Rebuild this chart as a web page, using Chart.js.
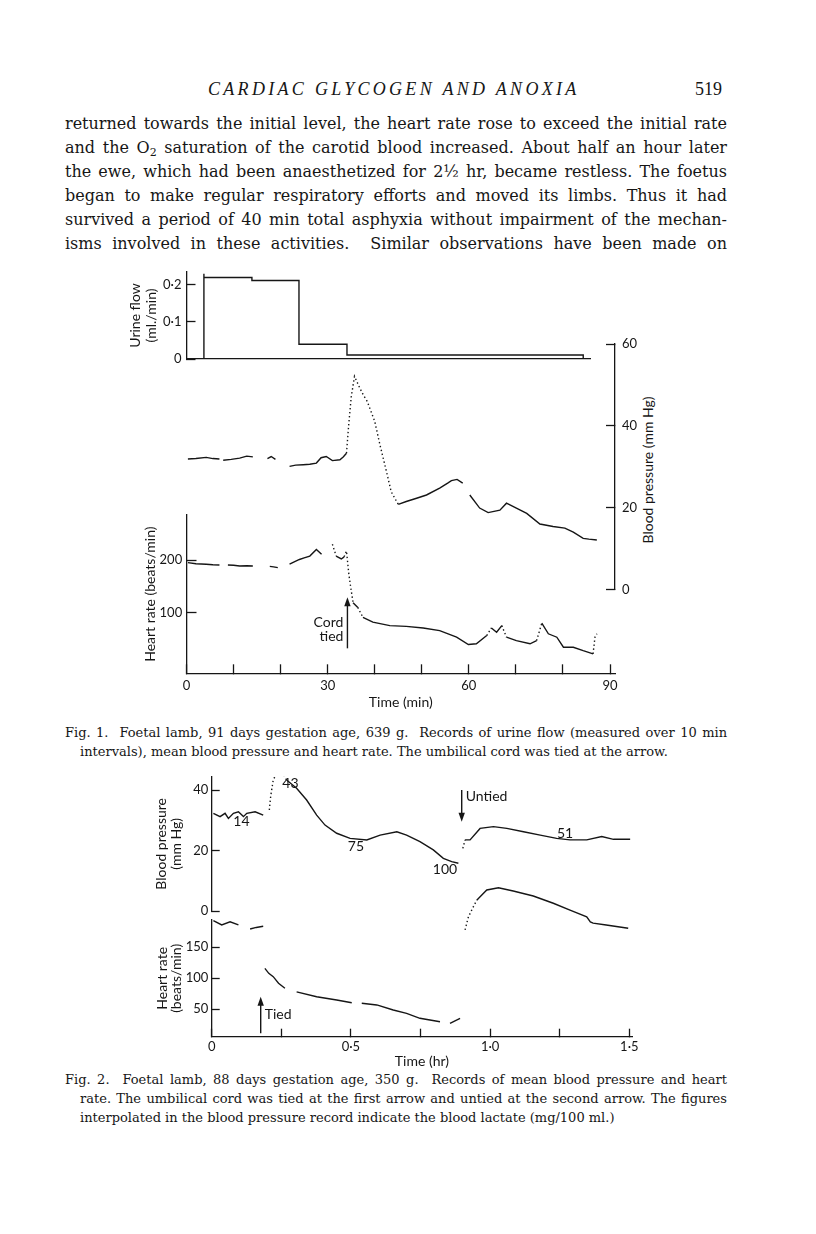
<!DOCTYPE html>
<html>
<head>
<meta charset="utf-8">
<title>Cardiac glycogen and anoxia, Figs. 1 and 2</title>
<script src="https://cdn.jsdelivr.net/npm/chart.js@4/dist/chart.umd.min.js"></script>
<style>
  html, body { margin: 0; background: #fff; }
  #page { position: relative; width: 816px; height: 1234px; overflow: hidden; color: #161616; }
  #page canvas { position: absolute; left: 0; top: 0; }
  .txt { position: absolute; font-family: "DejaVu Serif", serif; }
  .head { top: 76px; left: 208px; font-family: "Liberation Serif", serif; font-size: 18px; line-height: 26px;
    font-style: italic; letter-spacing: 3.3px; white-space: nowrap; }
  .folio { top: 76px; left: 695px; font-family: "Liberation Serif", serif; font-size: 18px; line-height: 26px; }
  .body { left: 65px; width: 662px; font-size: 16px; line-height: 24px; text-align: justify; text-align-last: justify; }
  .cap { font-size: 13px; line-height: 19px; }
  .cap.full { text-align: justify; text-align-last: justify; }
  sub { font-size: 11px; line-height: 0; vertical-align: -3px; }
  .axis-title { position: absolute; font-family: Lato, "Open Sans", sans-serif; font-size: 14px; white-space: nowrap;
    transform: translate(-50%, -50%) rotate(-90deg); }
</style>
</head>
<body>
<div id="page">
  <div class="txt head">CARDIAC GLYCOGEN AND ANOXIA</div>
  <div class="txt folio">519</div>

  <div class="txt body" style="top:112px">returned towards the initial level, the heart rate rose to exceed the initial rate</div>
  <div class="txt body" style="top:136px">and the O<sub>2</sub> saturation of the carotid blood increased. About half an hour later</div>
  <div class="txt body" style="top:160px">the ewe, which had been anaesthetized for 2½ hr, became restless. The foetus</div>
  <div class="txt body" style="top:184px">began to make regular respiratory efforts and moved its limbs. Thus it had</div>
  <div class="txt body" style="top:208px">survived a period of 40 min total asphyxia without impairment of the mechan-</div>
  <div class="txt body" style="top:232px">isms involved in these activities.&nbsp; Similar observations have been made on</div>

  <div class="axis-title" style="left:647px; top:470px">Blood pressure (mm Hg)</div>

  <div class="txt cap full" style="top:723px; left:65px; width:662px">Fig. 1.&nbsp; Foetal lamb, 91 days gestation age, 639 g.&nbsp; Records of urine flow (measured over 10 min</div>
  <div class="txt cap" style="top:742px; left:80px">intervals), mean blood pressure and heart rate. The umbilical cord was tied at the arrow.</div>

  <div class="txt cap full" style="top:1070px; left:65px; width:662px">Fig. 2.&nbsp; Foetal lamb, 88 days gestation age, 350 g.&nbsp; Records of mean blood pressure and heart</div>
  <div class="txt cap full" style="top:1089px; left:80px; width:647px">rate. The umbilical cord was tied at the first arrow and untied at the second arrow. The figures</div>
  <div class="txt cap" style="top:1108px; left:80px">interpolated in the blood pressure record indicate the blood lactate (mg/100 ml.)</div>
</div>
<script>
const INK = '#161616';
const PAGE_W = 816;
const PAGE_H = 1234;

// Fig. 1: urine flow (ml./min), collected over 10 min periods
const urineStart = [3.7, 13.9, 23.9, 34.1, 44.3];
const urineFlow = [0.23, 0.22, 0.212, 0.04, 0.011];
const urineEnd = 84.3;
const urineTicks = [0, 0.1, 0.2];

// Fig. 1: mean blood pressure (mm Hg) against time (min); null = break in record
const bp1Time = [0.3, 2.0, 4.2, 5.6, 7.0, 7.4, 7.8, 9.5, 11.3, 12.8, 14.1, 15.5, 17.2, 18.0, 18.9, 20.0,
  21.9, 23.2, 24.8, 26.2, 27.6, 28.6, 29.7, 31.0, 32.6, 33.3, 34.0, 34.5, 35.0, 35.7, 36.8, 37.6, 38.4,
  40.0, 41.1, 42.5, 43.5, 45.0, 46.7, 48.9, 51.0, 53.8, 55.5, 56.3, 57.5, 58.7, 59.4,
  60.2, 62.3, 64.1, 66.6, 68.0, 70.1, 72.3, 75.1, 77.9, 80.4, 82.2, 84.3, 85.5, 87.2];
const bp1Value = [31.9, 32.0, 32.3, 32.0, 31.9, null, 31.6, 31.8, 32.1, 32.6, 32.4, null, 32.0, 32.5, 31.8, null,
  30.1, 30.4, 30.5, 30.6, 30.9, 32.2, 32.5, 31.5, 31.7, 32.4, 33.3, 40.7, 47.0, 52.1, 49.3, 47.5, 46.0,
  41.1, 35.4, 28.8, 23.9, 20.8, 21.5, 22.3, 23.1, 24.8, 26.0, 26.6, 26.9, 26.0, null,
  23.1, 19.9, 18.8, 19.4, 21.1, 19.9, 18.6, 16.0, 15.4, 15.0, 14.0, 12.5, 12.3, 12.1];
const bp1Ticks = [0, 20, 40, 60];

// Fig. 1: heart rate (beats/min)
const hr1Time = [0.3, 2.0, 4.2, 5.6, 7.0, 7.9, 8.8, 10.0, 11.3, 12.8, 14.1, 15.5, 17.7, 18.5, 19.4, 20.6,
  21.9, 23.0, 24.0, 25.0, 26.2, 27.6, 28.7, 29.5, 31.0, 31.8, 32.9, 33.5, 34.0, 34.5, 34.8, 35.4, 36.4,
  37.5, 39.6, 43.2, 46.7, 50.3, 53.8, 57.4, 59.9, 61.6, 63.8, 64.8, 65.9, 67.0, 68.0, 70.1, 73.0, 74.4,
  75.5, 76.9, 78.7, 80.1, 82.2, 84.3, 86.4, 86.8, 87.2];
const hr1Value = [195, 193, 192, 191, 190.5, null, 190.5, 190, 188.7, 189, 188.7, null, 188, 187, 185.5, null,
  192, 197, 201, 204, 207.5, 220, 211, null, 230, 207.5, 202, 206, 217, 173, 154, 119, 110,
  91, 82, 75.5, 74, 71, 66, 53.5, 39.6, 41, 56.6, 71, 63, 75.5, 53.5, 47, 41, 47,
  80, 60, 53.5, 34.5, 34.5, 28, 22, 53.5, 60];
const hr1Ticks = [100, 200];

const fig1TimeTicks = [0, 10, 20, 30, 40, 50, 60, 70, 80, 90];
const fig1TimeLabels = [0, 30, 60, 90];

// Fig. 2: mean blood pressure (mm Hg) against time (hr)
const bp2Time = [0.006, 0.03, 0.048, 0.06, 0.078, 0.096, 0.114, 0.126, 0.156, 0.185, 0.197,
  0.207, 0.212, 0.221, 0.233, 0.251, 0.269, 0.305, 0.341, 0.377, 0.407, 0.449, 0.497, 0.557, 0.605,
  0.665, 0.700, 0.748, 0.796, 0.832, 0.862, 0.886, 0.894,
  0.902, 0.910, 0.928, 0.964, 1.012, 1.060, 1.120, 1.180, 1.239, 1.287, 1.347, 1.401, 1.443, 1.503];
const bp2Value = [32.3, 31.2, 32.3, 30.6, 32.3, 32.8, 31.2, 32.3, 32.8, 31.7, null,
  33.4, 38.0, 43.3, 45.5, 46.0, 43.3, 40.6, 36.7, 31.7, 28.4, 25.7, 24.0, 23.5, 25.1,
  26.2, 25.1, 22.9, 20.2, 17.4, 16.3, 15.8, null,
  20.7, 23.5, 23.5, 27.3, 27.9, 27.3, 26.2, 25.1, 24.0, 23.5, 23.5, 24.6, 23.7, 23.7];
const bp2Ticks = [0, 20, 40];

// Fig. 2: heart rate (beats/min)
const hr2Time = [0.006, 0.036, 0.066, 0.096, 0.115, 0.138, 0.16, 0.185, 0.188,
  0.191, 0.205, 0.221, 0.24, 0.263, 0.285, 0.305, 0.377, 0.449, 0.503, 0.52,
  0.539, 0.593, 0.652, 0.700, 0.748, 0.784, 0.820, 0.838, 0.856, 0.892, 0.90,
  0.910, 0.922, 0.940, 0.952, 0.964, 0.988, 1.030, 1.083, 1.155, 1.227, 1.287, 1.347, 1.36, 1.37, 1.417, 1.496];
const hr2Value = [193, 186, 191, 186, null, 179.5, 182, 184, null,
  116, 108, 102.6, 92, 84, null, 78, 70.3, 65, 60.6, null,
  59.7, 57, 48.9, 43.5, 35.5, 32.7, 30, null, 27.4, 35.5, null,
  178, 199, 215.5, 226, 231.6, 242.4, 246, 240.8, 232.7, 221, 210, 199, 191, 189, 186, 180.6];
const hr2Ticks = [50, 100, 150];

const fig2TimeTicks = [0, 0.25, 0.5, 0.75, 1, 1.25, 1.5];
const fig2TimeLabels = [0, 0.5, 1, 1.5];

// blood lactate (mg/100 ml.) written along the Fig. 2 pressure record
const lactateText = ['14', '43', '75', '100', '51'];
const lactateTime = [0.107, 0.283, 0.518, 0.838, 1.269];
const lactateLevel = [29.5, 42.3, 21.3, 13.6, 25.7];

const page = document.querySelector('#page');
const points = (xs, ys) => xs.map((x, i) => ({ x, y: ys[i] }));
const fixedTicks = list => scale => { scale.ticks = list.map(value => ({ value })); };
const decimal = value => String(value).replace('.', '·');

// fast swings of the recorder show up as dots rather than a line
const steepDots = ctx => {
  const dx = Math.abs(ctx.p1.x - ctx.p0.x);
  const dy = Math.abs(ctx.p1.y - ctx.p0.y);
  return dy > 1.6 * dx ? [1.4, 2.6] : undefined;
};

function trace(xs, ys, extra) {
  return Object.assign({
    data: points(xs, ys),
    borderColor: INK,
    borderWidth: 1.4,
    pointRadius: 0,
    spanGaps: false,
    segment: { borderDash: steepDots },
  }, extra);
}

function axis(extra, tickLength) {
  return Object.assign({
    type: 'linear',
    border: { display: true, color: INK, width: 1.3 },
    grid: { drawOnChartArea: false, drawTicks: true, tickLength: -tickLength, tickColor: INK, tickWidth: 1.3 },
  }, extra);
}

const labelFont = { family: 'Lato, "Open Sans", sans-serif', size: 13 };
const titleFont = { family: 'Lato, "Open Sans", sans-serif', size: 14 };

const markPlugin = {
  id: 'marks',
  afterDatasetsDraw(chart, args, opts) {
    const { ctx } = chart;
    const x = chart.scales.x;
    const y = chart.scales.y;
    ctx.save();
    ctx.fillStyle = INK;
    ctx.strokeStyle = INK;
    ctx.lineWidth = 1.4;
    (opts.arrows || []).forEach(a => {
      const px = x.getPixelForValue(a.t);
      const from = y.getPixelForValue(a.from);
      const to = y.getPixelForValue(a.to);
      const dir = Math.sign(to - from);
      ctx.beginPath();
      ctx.moveTo(px, from);
      ctx.lineTo(px, to - dir * 6);
      ctx.stroke();
      ctx.beginPath();
      ctx.moveTo(px, to);
      ctx.lineTo(px - 3.2, to - dir * 9);
      ctx.lineTo(px + 3.2, to - dir * 9);
      ctx.closePath();
      ctx.fill();
    });
    ctx.font = '14px Lato, "Open Sans", sans-serif';
    ctx.textBaseline = 'middle';
    (opts.labels || []).forEach(l => {
      ctx.textAlign = l.align || 'center';
      ctx.fillText(l.text, x.getPixelForValue(l.t) + (l.dx || 0), y.getPixelForValue(l.v));
    });
    ctx.restore();
  },
};

function panel(area, sizes, scales, datasets, marks) {
  const canvas = document.createElement('canvas');
  canvas.width = PAGE_W;
  canvas.height = PAGE_H;
  page.appendChild(canvas);
  return new Chart(canvas, {
    type: 'line',
    data: { datasets },
    options: {
      responsive: false,
      animation: false,
      devicePixelRatio: 1,
      layout: {
        padding: {
          left: area.left - (sizes.left || 0),
          right: PAGE_W - area.right - (sizes.right || 0),
          top: area.top,
          bottom: PAGE_H - area.bottom - (sizes.bottom || 0),
        },
      },
      scales,
      plugins: { legend: { display: false }, tooltip: { enabled: false }, marks: marks || {} },
    },
    plugins: [markPlugin],
  });
}

// ---- Fig. 1, urine flow
const urineSteps = [{ x: urineStart[0], y: 0 }]
  .concat(points(urineStart, urineFlow))
  .concat([{ x: urineEnd, y: urineFlow[urineFlow.length - 1] }, { x: urineEnd, y: 0 }]);

panel({ left: 186.5, top: 272, right: 590, bottom: 359 }, { left: 70 }, {
  x: {
    type: 'linear', min: 0, max: 85.74,
    afterFit: s => { s.height = 0; },
    grid: { display: false },
    border: { display: true, color: INK, width: 1.3 },
    ticks: { display: false },
  },
  y: axis({
    position: 'left', min: 0, max: 0.235,
    afterFit: s => { s.width = 70; },
    afterBuildTicks: fixedTicks(urineTicks),
    ticks: { padding: 14, color: INK, font: labelFont, callback: v => decimal(v) },
    title: { display: true, text: ['Urine flow', '(ml./min)'], color: INK, font: titleFont, padding: { top: 10.1 } },
  }, 9),
}, [{ data: urineSteps, stepped: 'after', borderColor: INK, borderWidth: 1.4, pointRadius: 0 }]);

// ---- Fig. 1, blood pressure (right-hand scale)
panel({ left: 186.5, top: 344, right: 615, bottom: 589.5 }, { right: 30 }, {
  x: { type: 'linear', min: 0, max: 91.06, display: false },
  y: axis({
    position: 'right', min: 0, max: 60,
    afterFit: s => { s.width = 30; },
    afterBuildTicks: fixedTicks(bp1Ticks),
    ticks: { padding: 16, color: INK, font: labelFont },
  }, 9),
}, [trace(bp1Time, bp1Value)]);

// ---- Fig. 1, heart rate and time axis
panel({ left: 186.5, top: 515, right: 615, bottom: 673.3 }, { left: 70, bottom: 37.4 }, {
  x: axis({
    position: 'bottom', min: 0, max: 91.06,
    afterFit: s => { s.height = 37.4; },
    afterBuildTicks: fixedTicks(fig1TimeTicks),
    ticks: { padding: 13.6, color: INK, font: labelFont, maxRotation: 0, autoSkip: false,
      callback: v => fig1TimeLabels.includes(v) ? String(v) : '' },
    title: { display: true, text: 'Time (min)', color: INK, font: titleFont, padding: 0 },
  }, 9),
  y: axis({
    position: 'left', min: -15, max: 285.4,
    afterFit: s => { s.width = 70; },
    afterBuildTicks: fixedTicks(hr1Ticks),
    ticks: { padding: 14.3, color: INK, font: labelFont },
    title: { display: true, text: 'Heart rate (beats/min)', color: INK, font: titleFont, padding: { top: 25.1 } },
  }, 10),
}, [trace(hr1Time, hr1Value)], {
  arrows: [{ t: 34.2, from: 32.4, to: 129.2 }],
  labels: [
    { text: 'Cord', t: 34.2, v: 81, align: 'right', dx: -4 },
    { text: 'tied', t: 34.2, v: 54.5, align: 'right', dx: -4 },
  ],
});

// ---- Fig. 2, blood pressure
panel({ left: 211.7, top: 776.7, right: 632.1, bottom: 911 }, { left: 70 }, {
  x: { type: 'linear', min: 0, max: 1.51, display: false },
  y: axis({
    position: 'left', min: 0, max: 44.4,
    afterFit: s => { s.width = 70; },
    afterBuildTicks: fixedTicks(bp2Ticks),
    ticks: { padding: 11.4, color: INK, font: labelFont },
    title: { display: true, text: ['Blood pressure', '(mm Hg)'], color: INK,
      font: Object.assign({ lineHeight: 1.07 }, titleFont), padding: { top: 12.5 } },
  }, 8),
}, [trace(bp2Time, bp2Value)], {
  arrows: [{ t: 0.898, from: 40, to: 29.5 }],
  labels: [{ text: 'Untied', t: 0.898, v: 37.8, align: 'left', dx: 4 }]
    .concat(lactateText.map((text, i) => ({ text, t: lactateTime[i], v: lactateLevel[i] }))),
});

// ---- Fig. 2, heart rate and time axis
panel({ left: 211.7, top: 920, right: 632.1, bottom: 1036.7 }, { left: 70, bottom: 33.4 }, {
  x: axis({
    position: 'bottom', min: 0, max: 1.51,
    afterFit: s => { s.height = 33.4; },
    afterBuildTicks: fixedTicks(fig2TimeTicks),
    ticks: { padding: 10.2, color: INK, font: labelFont, maxRotation: 0, autoSkip: false,
      callback: v => fig2TimeLabels.includes(v) ? (v === 0 ? '0' : v.toFixed(1).replace('.', '·')) : '' },
    title: { display: true, text: 'Time (hr)', color: INK, font: titleFont, padding: 0 },
  }, 8),
  y: axis({
    position: 'left', min: 5.8, max: 194,
    afterFit: s => { s.width = 70; },
    afterBuildTicks: fixedTicks(hr2Ticks),
    ticks: { padding: 11.4, color: INK, font: labelFont },
    title: { display: true, text: ['Heart rate', '(beats/min)'], color: INK,
      font: Object.assign({ lineHeight: 1.07 }, titleFont), padding: { top: 12.8 } },
  }, 8),
}, [trace(hr2Time, hr2Value, { clip: false })], {
  arrows: [{ t: 0.176, from: 11.3, to: 70.3 }],
  labels: [{ text: 'Tied', t: 0.176, v: 42.4, align: 'left', dx: 4 }],
});
</script>
</body>
</html>
